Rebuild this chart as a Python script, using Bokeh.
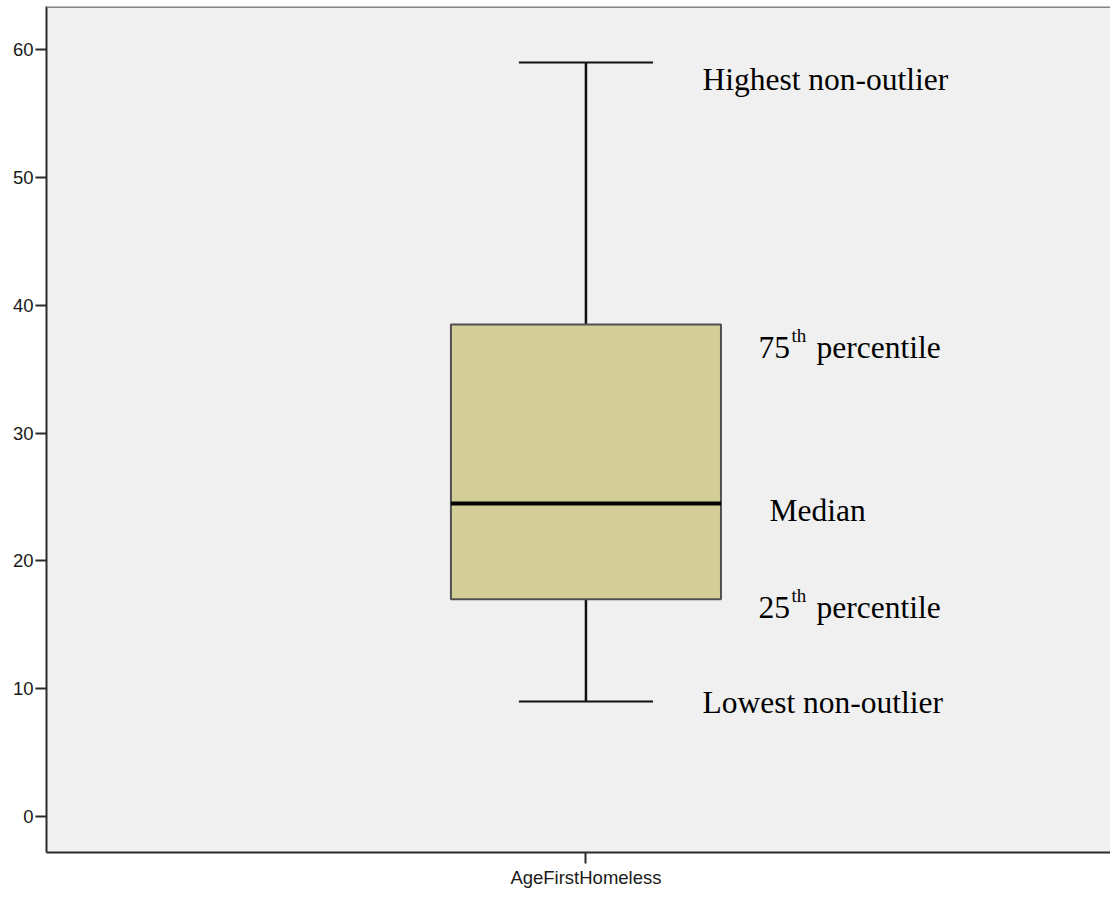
from bokeh.plotting import figure
from bokeh.models import Range1d, FixedTicker, Span
from bokeh.core.properties import value
from bokeh.embed import file_html
from bokeh.resources import INLINE

# ---- data ----
categories = ["AgeFirstHomeless"]
positions = [0]
lower_whisker = [9.0]
q1 = [17.0]
median = [24.5]
q3 = [38.5]
upper_whisker = [59.0]
y_ticks = [0, 10, 20, 30, 40, 50, 60]

label_highest = ["Highest non-outlier"]
label_q3_num = ["75"]
label_q1_num = ["25"]
label_sup = ["th"]
label_pct = ["percentile"]
label_median = ["Median"]
label_lowest = ["Lowest non-outlier"]

box_width = 0.2538
cap_width = 0.126
y_top = 63.39
y_bottom = -2.82

p = figure(width=1110, height=890, output_backend="svg", toolbar_location=None,
           x_range=Range1d(-0.507, 0.493), y_range=Range1d(y_bottom, y_top),
           min_border_left=46, min_border_right=0, min_border_top=6, min_border_bottom=31)
p.background_fill_color = "#F0F0F0"
p.border_fill_color = "white"
p.outline_line_color = None
p.xgrid.visible = False
p.ygrid.visible = False

# axes
for ax in (p.xaxis[0], p.yaxis[0]):
    ax.axis_line_color = "#2b2b2b"
    ax.axis_line_width = 2
    ax.major_tick_line_color = "#2b2b2b"
    ax.major_tick_line_width = 2
    ax.major_tick_in = 0
    ax.minor_tick_line_color = None
    ax.major_label_text_font = "Liberation Sans"
    ax.major_label_text_color = "#1a1a1a"

p.yaxis.ticker = FixedTicker(ticks=y_ticks)
p.yaxis.major_tick_out = 11
p.yaxis.major_label_standoff = 2
p.yaxis.major_label_text_font_size = "18.5px"

p.xaxis.ticker = FixedTicker(ticks=positions)
p.xaxis.major_label_overrides = {pos: cat for pos, cat in zip(positions, categories)}
p.xaxis.major_tick_out = 11
p.xaxis.major_label_standoff = 3
p.xaxis.major_label_text_font_size = "18.5px"

# top border
p.add_layout(Span(location=y_top, dimension="width", line_color="#858585", line_width=3))

# whiskers
p.segment(x0=positions, y0=q3, x1=positions, y1=upper_whisker, line_color="#111111", line_width=2.5)
p.segment(x0=positions, y0=q1, x1=positions, y1=lower_whisker, line_color="#111111", line_width=2.5)
cap_x0 = [x - cap_width / 2 for x in positions]
cap_x1 = [x + cap_width / 2 for x in positions]
p.segment(x0=cap_x0, y0=upper_whisker, x1=cap_x1, y1=upper_whisker, line_color="#111111", line_width=2)
p.segment(x0=cap_x0, y0=lower_whisker, x1=cap_x1, y1=lower_whisker, line_color="#111111", line_width=2)

# box
p.vbar(x=positions, width=box_width, top=q3, bottom=q1, fill_color="#D3CE98",
       line_color="#505050", line_width=2)
box_x0 = [x - box_width / 2 for x in positions]
box_x1 = [x + box_width / 2 for x in positions]
p.segment(x0=box_x0, y0=median, x1=box_x1, y1=median, line_color="black", line_width=4)

# annotations
serif = value("Liberation Serif")
big = "31.5px"
small = "19px"

def txt(ys, labels, xo, yo, size):
    p.text(x=positions, y=ys, text=labels, x_offset=xo, y_offset=yo,
           text_font=serif, text_font_size=size, text_color="black",
           text_align="left", text_baseline="alphabetic")

txt(upper_whisker, label_highest, 116.5, 17, big)
txt(q3, label_q3_num, 172.5, 23, big)
txt(q3, label_sup, 205.5, 11, small)
txt(q3, label_pct, 230.5, 23, big)
txt(median, label_median, 183.5, 7, big)
txt(q1, label_q1_num, 172.5, 8, big)
txt(q1, label_sup, 205.5, -4, small)
txt(q1, label_pct, 230.5, 8, big)
txt(lower_whisker, label_lowest, 116.5, 1, big)

open("out.html", "w").write(file_html(p, INLINE))
